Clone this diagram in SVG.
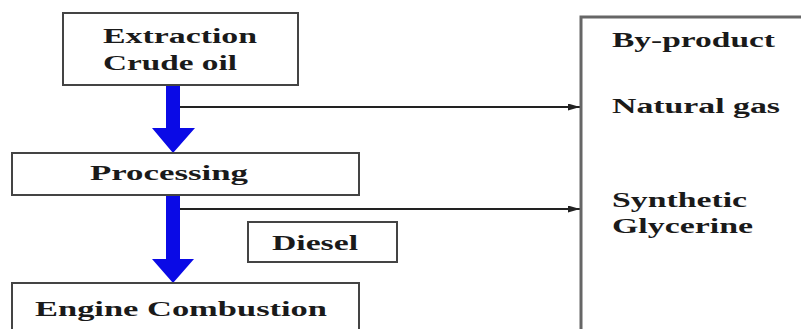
<svg xmlns="http://www.w3.org/2000/svg" width="801" height="329" viewBox="0 0 801 329">
<defs>
<style>
.box{fill:#fff;stroke:#444;stroke-width:2}
.t{font-family:"Liberation Serif","Times New Roman",serif;font-weight:bold;font-size:20px;fill:#1a1a1a}
.conn{stroke:#222;stroke-width:2;fill:none}
.blue{fill:#0a0ae6}
</style>
<marker id="ah" viewBox="0 0 10 10" refX="10" refY="5" markerWidth="12" markerHeight="7" markerUnits="userSpaceOnUse" orient="auto" preserveAspectRatio="none">
<path d="M0,0 L10,5 L0,10 z" fill="#222"/>
</marker>
</defs>
<rect width="801" height="329" fill="#fff"/>
<g id="connectors">
<path class="conn" d="M180,107 H580" marker-end="url(#ah)"/>
<path class="conn" d="M180,209 H580" marker-end="url(#ah)"/>
<path class="blue" d="M166,85 H180 V128 H195 L173,153 L152,128 H166 Z"/>
<path class="blue" d="M166,195 H180 V259 H194 L173,283 L152,259 H166 Z"/>
</g>
<g id="extraction">
<rect class="box" x="63" y="13" width="235" height="72"/>
<text class="t" x="103" y="43" textLength="154" lengthAdjust="spacingAndGlyphs">Extraction</text>
<text class="t" x="103" y="70" textLength="134" lengthAdjust="spacingAndGlyphs">Crude oil</text>
</g>
<g id="processing">
<rect class="box" x="12" y="153" width="347" height="42"/>
<text class="t" x="90" y="180" textLength="158" lengthAdjust="spacingAndGlyphs">Processing</text>
</g>
<g id="diesel">
<rect class="box" x="248" y="222" width="149" height="40"/>
<text class="t" x="272" y="250" textLength="86" lengthAdjust="spacingAndGlyphs">Diesel</text>
</g>
<g id="engine">
<rect class="box" x="12" y="283" width="347" height="60"/>
<text class="t" x="35" y="316" textLength="292" lengthAdjust="spacingAndGlyphs">Engine Combustion</text>
</g>
<g id="byproduct">
<rect x="581" y="17" width="240" height="330" fill="#fff" stroke="#666" stroke-width="3"/>
<text class="t" x="612" y="47" textLength="163" lengthAdjust="spacingAndGlyphs">By-product</text>
<text class="t" x="612" y="113" textLength="168" lengthAdjust="spacingAndGlyphs">Natural gas</text>
<text class="t" x="612" y="207" textLength="135" lengthAdjust="spacingAndGlyphs">Synthetic</text>
<text class="t" x="612" y="233" textLength="141" lengthAdjust="spacingAndGlyphs">Glycerine</text>
</g>
</svg>
